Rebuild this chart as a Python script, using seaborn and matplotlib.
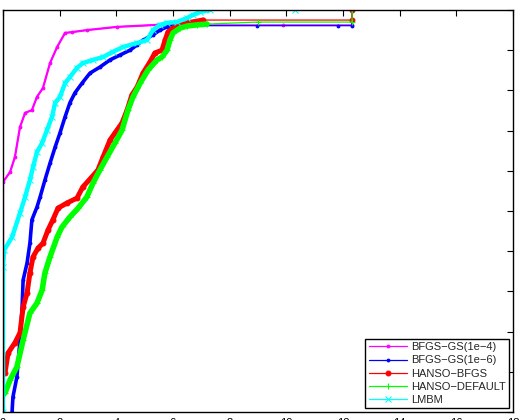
import numpy as np
import pandas as pd
import matplotlib
matplotlib.use("Agg")
import matplotlib.pyplot as plt
import seaborn as sns

# performance profiles (tau, rho)
bfgs_gs4_x = [0, 0, 0.25, 0.42, 0.60, 0.78, 1.02, 1.20, 1.41, 1.66, 1.91, 2.19, 2.44, 2.96, 4.02, 5.44, 9.88, 12.32, 12.32]
bfgs_gs4_y = [0, 0.572, 0.597, 0.634, 0.709, 0.744, 0.751, 0.784, 0.806, 0.868, 0.908, 0.943, 0.945, 0.950, 0.958, 0.963, 0.963, 0.963, 1.0]

bfgs_gs6_x = [0.32, 0.35, 0.49, 0.60, 0.67, 0.71, 0.85, 0.95, 1.02, 1.20, 1.31, 1.48, 1.66, 1.84, 2.01, 2.19, 2.36, 2.54,
              2.79, 3.07, 3.42, 3.78, 4.13, 4.48, 4.73, 4.94, 5.29, 5.54, 5.79, 6.00, 8.96, 11.82, 12.32, 12.32]
bfgs_gs6_y = [0.0, 0.037, 0.087, 0.179, 0.254, 0.328, 0.371, 0.420, 0.478, 0.510, 0.535, 0.577, 0.619, 0.659, 0.694, 0.734,
              0.769, 0.794, 0.818, 0.843, 0.858, 0.876, 0.888, 0.900, 0.913, 0.925, 0.938, 0.950, 0.958, 0.961, 0.961,
              0.961, 0.961, 1.0]

hanso_bfgs_x = [0.07, 0.18, 0.42, 0.60, 0.71, 0.85, 0.95, 1.06, 1.24, 1.41, 1.59, 1.76, 1.94, 2.26, 2.61, 2.82, 3.14, 3.35,
                3.53, 3.78, 3.95, 4.20, 4.38, 4.55, 4.73, 4.94, 5.19, 5.36, 5.61, 5.72, 5.82, 6.00, 6.25, 6.49, 7.06,
                12.32, 12.32]
hanso_bfgs_y = [0.097, 0.147, 0.172, 0.197, 0.261, 0.296, 0.346, 0.386, 0.408, 0.420, 0.453, 0.478, 0.507, 0.520, 0.532,
                0.560, 0.585, 0.602, 0.634, 0.677, 0.694, 0.719, 0.751, 0.789, 0.808, 0.843, 0.871, 0.893, 0.900, 0.925,
                0.945, 0.955, 0.963, 0.968, 0.975, 0.975, 1.0]

hanso_def_x = [0.07, 0.25, 0.49, 0.71, 0.95, 1.20, 1.38, 1.48, 1.66, 1.91, 2.08, 2.36, 2.65, 2.96, 3.18, 3.42, 3.67, 3.95,
               4.20, 4.41, 4.59, 4.84, 5.12, 5.44, 5.61, 5.79, 5.89, 6.00, 6.25, 6.49, 6.85, 7.20, 9.00, 12.32, 12.32]
hanso_def_y = [0.047, 0.080, 0.112, 0.179, 0.246, 0.271, 0.303, 0.346, 0.386, 0.435, 0.460, 0.485, 0.507, 0.535, 0.570,
               0.602, 0.634, 0.669, 0.701, 0.751, 0.784, 0.818, 0.851, 0.876, 0.883, 0.900, 0.925, 0.943, 0.955, 0.960,
               0.963, 0.965, 0.970, 0.970, 1.0]

lmbm_x = [0, 0, 0.04, 0.32, 0.60, 0.78, 0.95, 1.06, 1.20, 1.38, 1.55, 1.73, 1.84, 2.01, 2.19, 2.36, 2.61, 2.82, 3.18, 3.53,
          3.88, 4.24, 4.73, 5.08, 5.29, 5.54, 5.79, 6.14, 6.49, 6.71, 6.95, 7.31, 10.31]
lmbm_y = [0, 0.361, 0.403, 0.435, 0.495, 0.535, 0.577, 0.609, 0.647, 0.669, 0.701, 0.734, 0.769, 0.784, 0.818, 0.833,
          0.856, 0.868, 0.876, 0.883, 0.896, 0.908, 0.918, 0.925, 0.950, 0.963, 0.968, 0.970, 0.980, 0.988, 0.995,
          1.0, 1.0]

labels = ["BFGS\u2212GS(1e\u22124)", "BFGS\u2212GS(1e\u22126)", "HANSO\u2212BFGS", "HANSO\u2212DEFAULT", "LMBM"]
xs = [bfgs_gs4_x, bfgs_gs6_x, hanso_bfgs_x, hanso_def_x, lmbm_x]
ys = [bfgs_gs4_y, bfgs_gs6_y, hanso_bfgs_y, hanso_def_y, lmbm_y]

colors = ["#ff00ff", "#0000ff", "#ff0000", "#00ff00", "#00ffff"]
markers = [".", ".", "o", "+", "x"]
msizes = [4, 4, 3.5, 5, 4]
thick = [1.6, 2.6, 3.6, 4.0, 3.2]

sns.set_style("white")
plt.rcParams["font.family"] = ["Liberation Sans", "DejaVu Sans"]

fig = plt.figure(figsize=(5.22, 4.2), dpi=100)
ax = fig.add_axes([3 / 522, 8 / 420, 510 / 522, 402 / 420])

for x, y, c, m, ms, lw, lab in zip(xs, ys, colors, markers, msizes, thick, labels):
    x = np.asarray(x)
    y = np.asarray(y)
    dense = x <= 7.5
    # thin full profile with markers, thick where the original markers pile up
    sns.lineplot(x=x, y=y, ax=ax, color=c, lw=0.9, marker=m, markersize=ms,
                 markeredgecolor=c, sort=False, estimator=None, label=lab)
    sns.lineplot(x=x[dense], y=y[dense], ax=ax, color=c, lw=lw, sort=False,
                 estimator=None, legend=False)

ax.set_xlim(0, 18)
ax.set_ylim(0, 1)
ax.set_xticks(np.arange(0, 19, 2))
ax.set_yticks(np.arange(0, 1.01, 0.1))
ax.tick_params(direction="in", top=True, right=True, length=4, width=0.8,
               labelsize=8, colors="black")
ax.tick_params(axis="x", pad=4)
for s in ax.spines.values():
    s.set_color("black")
    s.set_linewidth(1.0)
ax.set_xlabel("")
ax.set_ylabel("")

leg = ax.legend(loc="lower right", fontsize=8, frameon=True, fancybox=False,
                edgecolor="black", framealpha=1, borderaxespad=0.35,
                handlelength=3.4, labelspacing=0.28, borderpad=0.3,
                handletextpad=0.4)
leg.get_frame().set_linewidth(1.0)

fig.savefig("out.png", dpi=100)
